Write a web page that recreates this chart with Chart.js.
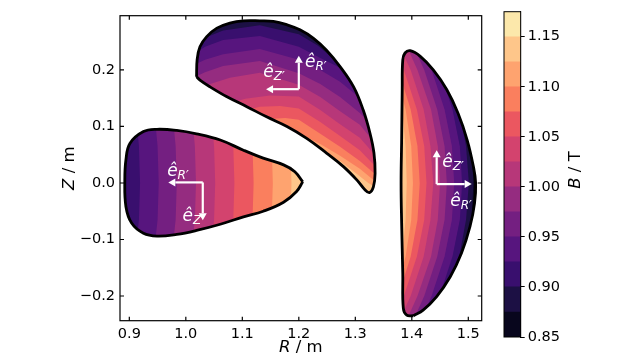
<!DOCTYPE html>
<html lang="en">
<head>
<meta charset="UTF-8">
<title>|B| on three cross-sections</title>
<script src="https://cdn.jsdelivr.net/npm/chart.js"></script>
<style>
  html, body { margin: 0; padding: 0; background: #fff; }
  #wrap { position: relative; width: 640px; height: 360px; }
  #main { position: absolute; left: 0; top: 0; }
  #cbar { position: absolute; left: 495px; top: 0; }
</style>
</head>
<body>
<div id="wrap">
  <canvas id="main" width="640" height="360"></canvas>
  <canvas id="cbar" width="145" height="360"></canvas>
</div>
<script>
// contour levels (T) and the magma colour of each band between them
const levels = [0.85, 0.875, 0.9, 0.925, 0.95, 0.975, 1.0, 1.025, 1.05, 1.075, 1.1, 1.125, 1.15, 1.175];
const bandColors = ['#08061d', '#1c1044', '#390f6e', '#57157e', '#741f81', '#952c80', '#b73779',
                    '#d3436e', '#eb5760', '#fa7f5e', '#fea36f', '#fec68a', '#fce8ab'];
const cbarTicks = [0.85, 0.90, 0.95, 1.00, 1.05, 1.10, 1.15];
const xTicks = [0.9, 1.0, 1.1, 1.2, 1.3, 1.4, 1.5];
const yTicks = [-0.2, -0.1, 0.0, 0.1, 0.2];

// plasma boundaries, (R, Z) in m; each starts at its sharpest corner
const outlineA = [[1.207,0.002],[1.196,-0.015],[1.173,-0.034],[1.137,-0.050],[1.102,-0.060],[1.061,-0.073],
  [1.019,-0.084],[0.984,-0.091],[0.949,-0.094],[0.925,-0.089],[0.904,-0.071],[0.894,-0.042],[0.892,0.005],
  [0.894,0.041],[0.901,0.070],[0.925,0.091],[0.949,0.095],[0.984,0.093],[1.019,0.087],[1.061,0.076],
  [1.102,0.058],[1.137,0.044],[1.173,0.032],[1.193,0.020]];
const outlineB = [[1.019,0.188],[1.020,0.218],[1.025,0.241],[1.037,0.259],[1.055,0.274],[1.078,0.283],
  [1.102,0.287],[1.131,0.287],[1.155,0.286],[1.179,0.280],[1.202,0.271],[1.226,0.256],[1.249,0.235],
  [1.273,0.206],[1.297,0.170],[1.314,0.129],[1.326,0.088],[1.333,0.053],[1.335,0.017],[1.332,-0.007],
  [1.325,-0.017],[1.317,-0.012],[1.303,0.005],[1.279,0.029],[1.249,0.053],[1.214,0.079],[1.179,0.100],
  [1.143,0.117],[1.108,0.135],[1.072,0.153],[1.043,0.170],[1.025,0.182]];
const outlineC = [[1.403,-0.235],[1.391,-0.234],[1.385,-0.222],[1.384,-0.160],[1.382,-0.071],[1.381,0.000],
  [1.382,0.076],[1.383,0.165],[1.384,0.218],[1.388,0.230],[1.397,0.234],[1.415,0.224],[1.438,0.200],
  [1.462,0.165],[1.482,0.123],[1.498,0.076],[1.509,0.029],[1.513,0.000],[1.511,-0.036],[1.503,-0.077],
  [1.488,-0.124],[1.468,-0.166],[1.444,-0.201],[1.420,-0.225]];

// contour lines between bands
const cutZ_A = [0.13, 0.065, 0, -0.065, -0.13];
const cutR_A = [
  [0.911, 0.917, 0.919, 0.917, 0.910],
  [0.944, 0.950, 0.952, 0.950, 0.943],
  [0.976, 0.982, 0.984, 0.982, 0.975],
  [1.010, 1.016, 1.018, 1.016, 1.009],
  [1.044, 1.050, 1.052, 1.050, 1.043],
  [1.078, 1.084, 1.086, 1.084, 1.077],
  [1.112, 1.118, 1.120, 1.118, 1.111],
  [1.146, 1.152, 1.154, 1.152, 1.145],
  [1.179, 1.185, 1.187, 1.185, 1.178]];
const cutsB = [
  [[1.004,0.235],[1.034,0.257],[1.066,0.270],[1.131,0.279],[1.200,0.263],[1.234,0.243],[1.255,0.225],[1.282,0.200],[1.361,0.161]],
  [[1.004,0.221],[1.034,0.241],[1.066,0.253],[1.131,0.260],[1.200,0.241],[1.238,0.221],[1.273,0.204],[1.308,0.182],[1.361,0.156]],
  [[1.004,0.204],[1.034,0.218],[1.066,0.228],[1.131,0.237],[1.200,0.218],[1.238,0.200],[1.273,0.179],[1.300,0.157],[1.317,0.140],[1.361,0.115]],
  [[1.004,0.182],[1.034,0.196],[1.066,0.207],[1.131,0.216],[1.200,0.194],[1.238,0.175],[1.273,0.152],[1.308,0.124],[1.335,0.097],[1.361,0.076]],
  [[1.007,0.161],[1.043,0.175],[1.078,0.186],[1.131,0.195],[1.200,0.174],[1.238,0.152],[1.273,0.127],[1.308,0.103],[1.330,0.076],[1.353,0.050]],
  [[1.061,0.136],[1.105,0.149],[1.149,0.155],[1.200,0.153],[1.238,0.129],[1.273,0.104],[1.308,0.080],[1.330,0.055],[1.353,0.032]],
  [[1.096,0.126],[1.131,0.135],[1.167,0.136],[1.200,0.132],[1.238,0.108],[1.273,0.083],[1.308,0.058],[1.330,0.035],[1.353,0.014]],
  [[1.123,0.108],[1.149,0.113],[1.176,0.115],[1.200,0.112],[1.238,0.087],[1.273,0.064],[1.308,0.039],[1.330,0.020],[1.353,0.002]],
  [[1.167,0.092],[1.200,0.088],[1.238,0.069],[1.273,0.048],[1.308,0.025],[1.330,0.007],[1.353,-0.009]],
  [[1.229,0.058],[1.273,0.039],[1.300,0.018],[1.323,0.000],[1.353,-0.018]]];
const cutZ_C = [0.26, 0.2, 0.13, 0.065, 0, -0.065, -0.13, -0.2, -0.26];
const cutR_C = [
  [1.449, 1.473, 1.494, 1.506, 1.509, 1.506, 1.494, 1.473, 1.449],
  [1.433, 1.461, 1.484, 1.496, 1.501, 1.496, 1.484, 1.461, 1.433],
  [1.421, 1.449, 1.472, 1.485, 1.489, 1.485, 1.472, 1.449, 1.421],
  [1.408, 1.435, 1.458, 1.471, 1.475, 1.471, 1.458, 1.435, 1.408],
  [1.395, 1.422, 1.445, 1.458, 1.462, 1.458, 1.445, 1.422, 1.395],
  [1.383, 1.410, 1.434, 1.446, 1.450, 1.446, 1.434, 1.410, 1.383],
  [1.370, 1.398, 1.421, 1.433, 1.438, 1.433, 1.421, 1.398, 1.370],
  [1.358, 1.386, 1.409, 1.422, 1.426, 1.422, 1.409, 1.386, 1.358],
  [1.350, 1.376, 1.398, 1.410, 1.414, 1.410, 1.398, 1.376, 1.350],
  [1.348, 1.370, 1.389, 1.399, 1.402, 1.399, 1.389, 1.370, 1.348],
  [1.345, 1.360, 1.383, 1.389, 1.391, 1.389, 1.383, 1.360, 1.345]];

// local unit vectors: corner, arrow ends, label centres
const vecCorners = [[1.030, 0.001], [1.200, 0.166], [1.444, -0.002]];
const vecEndsR = [[0.969, 0.001], [1.200, 0.225], [1.506, -0.002]];
const vecEndsZ = [[1.030, -0.066], [1.142, 0.166], [1.444, 0.058]];
const labelR = [[0.986, 0.021], [1.230, 0.214], [1.487, -0.032]];
const labelZ = [[1.013, -0.058], [1.156, 0.196], [1.473, 0.037]];

const TENSION = 0.4;
const closed = pts => [...pts, pts[0]];
const withZ = (rs, zs) => rs.map(r => r.map((v, i) => [v, zs[i]]));
const shapes = [
  { outline: outlineA, base: 2, cuts: withZ(cutR_A, cutZ_A), side: 'right' },
  { outline: outlineB, base: 1, cuts: cutsB, side: 'below' },
  { outline: outlineC, base: 0, cuts: withZ(cutR_C, cutZ_C), side: 'left' }
];

Chart.defaults.font.family = 'DejaVu Sans';
Chart.defaults.color = '#000';

function toPx(chart, p) {
  return [chart.scales.x.getPixelForValue(p[0]), chart.scales.y.getPixelForValue(p[1])];
}
function tracePath(ctx, chart, pts) {
  ctx.beginPath();
  pts.forEach((p, i) => {
    const [x, y] = toPx(chart, p);
    if (i) ctx.lineTo(x, y); else ctx.moveTo(x, y);
  });
  ctx.closePath();
}
// same curve the line element draws with its tension
function traceSmooth(ctx, chart, pts, t) {
  const P = pts.map(p => toPx(chart, p));
  const cp = P.map((c, i) => {
    const a = P[i - 1] || c, b = P[i + 1] || c;
    const d01 = Math.hypot(c[0] - a[0], c[1] - a[1]), d12 = Math.hypot(b[0] - c[0], b[1] - c[1]);
    const s01 = d01 / (d01 + d12) || 0, s12 = d12 / (d01 + d12) || 0;
    return {
      prev: [c[0] - t * s01 * (b[0] - a[0]), c[1] - t * s01 * (b[1] - a[1])],
      next: [c[0] + t * s12 * (b[0] - a[0]), c[1] + t * s12 * (b[1] - a[1])]
    };
  });
  ctx.beginPath();
  ctx.moveTo(P[0][0], P[0][1]);
  for (let i = 1; i < P.length; i++) {
    ctx.bezierCurveTo(cp[i - 1].next[0], cp[i - 1].next[1], cp[i].prev[0], cp[i].prev[1], P[i][0], P[i][1]);
  }
  ctx.closePath();
}
function closeToSide(cut, side) {
  const a = cut[0], b = cut[cut.length - 1];
  if (side === 'right') return [...cut, [5, b[1]], [5, a[1]]];
  if (side === 'left') return [...cut, [-5, b[1]], [-5, a[1]]];
  return [...cut, [b[0], -5], [a[0], -5]];
}
function drawMixed(ctx, parts, cx, cy, size, rot) {
  ctx.save();
  ctx.translate(cx, cy);
  if (rot) ctx.rotate(rot);
  let w = 0;
  parts.forEach(p => { ctx.font = (p.it ? 'italic ' : '') + size + 'px "DejaVu Sans"'; w += ctx.measureText(p.t).width; });
  let x = -w / 2;
  ctx.textBaseline = 'middle';
  ctx.fillStyle = '#000';
  parts.forEach(p => {
    ctx.font = (p.it ? 'italic ' : '') + size + 'px "DejaVu Sans"';
    ctx.fillText(p.t, x, 0);
    x += ctx.measureText(p.t).width;
  });
  ctx.restore();
}
function drawVecLabel(ctx, x, y, sub) {
  ctx.save();
  ctx.fillStyle = '#fff';
  ctx.textBaseline = 'alphabetic';
  ctx.font = 'italic 17px "DejaVu Sans"';
  const w1 = ctx.measureText('ê').width;
  ctx.font = 'italic 12px "DejaVu Sans"';
  const w2 = ctx.measureText(sub).width;
  const x0 = x - (w1 + w2) / 2;
  ctx.font = 'italic 17px "DejaVu Sans"';
  ctx.fillText('ê', x0, y + 5);
  ctx.font = 'italic 12px "DejaVu Sans"';
  ctx.fillText(sub, x0 + w1, y + 8);
  ctx.restore();
}
function drawArrow(ctx, x0, y0, x1, y1) {
  const dx = x1 - x0, dy = y1 - y0, len = Math.hypot(dx, dy);
  const ux = dx / len, uy = dy / len, hl = 7, hw = 4;
  ctx.beginPath();
  ctx.moveTo(x0, y0);
  ctx.lineTo(x1 - ux * hl, y1 - uy * hl);
  ctx.stroke();
  ctx.beginPath();
  ctx.moveTo(x1, y1);
  ctx.lineTo(x1 - ux * hl - uy * hw, y1 - uy * hl + ux * hw);
  ctx.lineTo(x1 - ux * hl + uy * hw, y1 - uy * hl - ux * hw);
  ctx.closePath();
  ctx.fill();
}

// filled contour bands, clipped to each boundary
const bandPlugin = {
  id: 'bands',
  beforeDatasetsDraw(chart) {
    const ctx = chart.ctx, area = chart.chartArea;
    shapes.forEach(s => {
      ctx.save();
      traceSmooth(ctx, chart, closed(s.outline), TENSION);
      ctx.clip();
      ctx.fillStyle = bandColors[s.base];
      ctx.fillRect(area.left, area.top, area.right - area.left, area.bottom - area.top);
      s.cuts.forEach((cut, i) => {
        ctx.fillStyle = bandColors[s.base + i + 1];
        tracePath(ctx, chart, closeToSide(cut, s.side));
        ctx.fill();
      });
      ctx.restore();
    });
  },
  afterDatasetsDraw(chart) {
    const ctx = chart.ctx;
    ctx.save();
    ctx.strokeStyle = '#fff';
    ctx.fillStyle = '#fff';
    ctx.lineWidth = 2.2;
    vecCorners.forEach((c, i) => {
      const [cx, cy] = toPx(chart, c);
      const [rx, ry] = toPx(chart, vecEndsR[i]);
      const [zx, zy] = toPx(chart, vecEndsZ[i]);
      drawArrow(ctx, cx, cy, rx, ry);
      drawArrow(ctx, cx, cy, zx, zy);
    });
    ctx.restore();
    labelR.forEach(p => { const [x, y] = toPx(chart, p); drawVecLabel(ctx, x, y, 'R′'); });
    labelZ.forEach(p => { const [x, y] = toPx(chart, p); drawVecLabel(ctx, x, y, 'Z′'); });
  },
  afterDraw(chart) {
    const ctx = chart.ctx, a = chart.chartArea;
    ctx.save();
    ctx.strokeStyle = '#000';
    ctx.lineWidth = 1.2;
    ctx.strokeRect(a.left, a.top, a.right - a.left, a.bottom - a.top);
    ctx.beginPath();
    xTicks.forEach(v => {
      const x = chart.scales.x.getPixelForValue(v);
      ctx.moveTo(x, a.bottom); ctx.lineTo(x, a.bottom - 4);
      ctx.moveTo(x, a.top); ctx.lineTo(x, a.top + 4);
    });
    yTicks.forEach(v => {
      const y = chart.scales.y.getPixelForValue(v);
      ctx.moveTo(a.left, y); ctx.lineTo(a.left + 4, y);
      ctx.moveTo(a.right, y); ctx.lineTo(a.right - 4, y);
    });
    ctx.stroke();
    ctx.restore();
    drawMixed(ctx, [{ t: 'R', it: true }, { t: ' / m' }], (a.left + a.right) / 2, 348, 16.5, 0);
    drawMixed(ctx, [{ t: 'Z', it: true }, { t: ' / m' }], 70, (a.top + a.bottom) / 2, 16.5, -Math.PI / 2);
  }
};

const tickFont = { family: 'DejaVu Sans', size: 14.5 };
const fmt = v => (v < 0 ? '\u2212' : '') + Math.abs(v).toFixed(1);

new Chart(document.getElementById('main'), {
  type: 'line',
  data: {
    datasets: shapes.map(s => ({
      data: closed(s.outline).map(p => ({ x: p[0], y: p[1] })),
      borderColor: '#000',
      borderWidth: 2.8,
      borderJoinStyle: 'round',
      tension: TENSION,
      pointRadius: 0,
      fill: false
    }))
  },
  options: {
    responsive: false,
    animation: false,
    events: [],
    layout: { padding: { left: 0, right: 158.3, top: 15.7, bottom: 0 } },
    plugins: { legend: { display: false }, tooltip: { enabled: false } },
    scales: {
      x: {
        type: 'linear', min: 0.8835, max: 1.5237,
        grid: { display: false, drawTicks: false },
        border: { display: false },
        afterBuildTicks: s => { s.ticks = xTicks.map(v => ({ value: v })); },
        ticks: { callback: fmt, font: tickFont, color: '#000', padding: 5, maxRotation: 0, autoSkip: false },
        afterFit: s => { s.height = 39.3; }
      },
      y: {
        type: 'linear', min: -0.2437, max: 0.296,
        grid: { display: false, drawTicks: false },
        border: { display: false },
        afterBuildTicks: s => { s.ticks = yTicks.map(v => ({ value: v })); },
        ticks: { callback: fmt, font: tickFont, color: '#000', padding: 5, autoSkip: false },
        afterFit: s => { s.width = 120; }
      }
    }
  },
  plugins: [bandPlugin]
});

// colour bar
const cbarPlugin = {
  id: 'cbarFrame',
  afterDraw(chart) {
    const ctx = chart.ctx, a = chart.chartArea;
    ctx.save();
    ctx.strokeStyle = '#000';
    ctx.lineWidth = 1;
    ctx.strokeRect(a.left, a.top, a.right - a.left, a.bottom - a.top);
    ctx.restore();
    drawMixed(ctx, [{ t: 'B', it: true }, { t: ' / T' }], 81, 170, 16.5, -Math.PI / 2);
  }
};

new Chart(document.getElementById('cbar'), {
  type: 'bar',
  data: {
    labels: ['B'],
    datasets: bandColors.map((c, i) => ({
      data: [[levels[i], levels[i + 1]]],
      backgroundColor: c,
      borderWidth: 0,
      barPercentage: 1,
      categoryPercentage: 1,
      grouped: false
    }))
  },
  options: {
    responsive: false,
    animation: false,
    events: [],
    layout: { padding: { left: 9, right: 0, top: 1, bottom: 23 } },
    plugins: { legend: { display: false }, tooltip: { enabled: false } },
    scales: {
      x: { display: false },
      y: {
        position: 'right', min: 0.85, max: 1.175,
        grid: { drawOnChartArea: false, drawTicks: true, tickLength: 4, color: '#000', lineWidth: 1 },
        border: { display: true, color: '#000', width: 1 },
        afterBuildTicks: s => { s.ticks = cbarTicks.map(v => ({ value: v })); },
        ticks: { callback: v => v.toFixed(2), font: tickFont, color: '#000', padding: 3, autoSkip: false },
        afterFit: s => { s.width = 119.3; }
      }
    }
  },
  plugins: [cbarPlugin]
});
</script>
</body>
</html>
